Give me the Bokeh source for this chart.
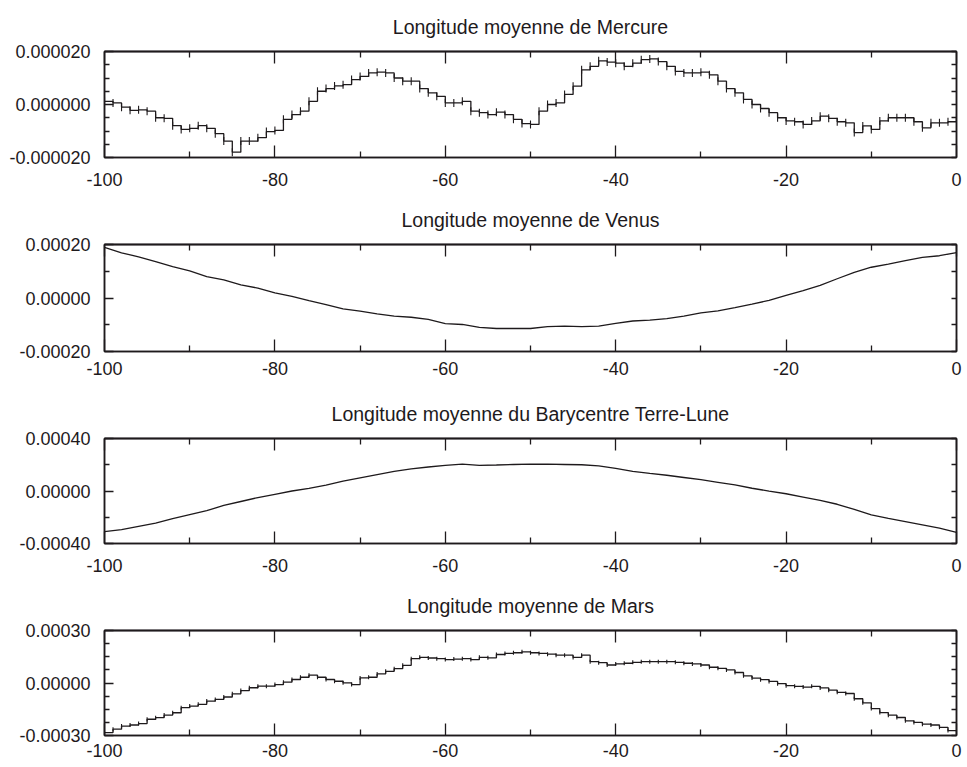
import math
from bokeh.plotting import figure
from bokeh.models import Range1d, FixedTicker, LinearAxis
from bokeh.layouts import column
from bokeh.embed import file_html
from bokeh.resources import INLINE

# ---------------- data ----------------
X_TICKS = [-100, -80, -60, -40, -20, 0]
X_MINOR = [-90, -70, -50, -30, -10]
X_LABELS = ["-100", "-80", "-60", "-40", "-20", "0"]

# Mercure, values in units of 1e-6, one per unit of x from -100 to 0
mercure_x = list(range(-100, 1))
mercure_y = [1.2, 0.6, -1.0, -2.2, -2.0, -2.5, -5.0, -5.2, -8.0, -9.4,
             -9.0, -8.0, -9.0, -11.0, -13.8, -18.0, -13.8, -13.8, -12.5, -10.2,
             -9.8, -5.6, -3.8, -2.5, 1.2, 5.0, 6.0, 7.0, 7.5, 9.4,
             10.6, 11.9, 12.2, 11.9, 10.0, 8.8, 8.8, 6.0, 4.4, 3.1,
             0.6, 0.6, 1.2, -2.5, -3.1, -3.8, -2.9, -3.8, -5.6, -7.2,
             -7.5, -2.5, 0.0, 0.6, 3.8, 6.9, 13.1, 14.4, 16.5, 16.0,
             15.6, 14.4, 15.6, 16.9, 17.2, 16.2, 14.4, 12.5, 11.9, 11.9,
             12.2, 11.2, 8.8, 6.0, 4.4, 1.9, 0.0, -1.5, -3.1, -5.0,
             -6.2, -6.5, -7.5, -6.2, -4.4, -5.2, -6.5, -6.9, -10.6, -8.1,
             -9.4, -6.2, -5.0, -5.0, -5.0, -6.5, -8.8, -6.9, -6.9, -6.5,
             -5.0]
mercure_yticks = [-20, 0, 20]
mercure_yminor = [-15, -10, -5, 5, 10, 15]
mercure_ylabels = ["-0.000020", "0.000000", "0.000020"]

# Venus, values in units of 1e-5, every 2 units of x
venus_x = list(range(-100, 1, 2))
venus_y = [18.9, 16.9, 15.4, 13.6, 11.7, 10.1, 8.0, 6.8, 4.9, 3.7,
           1.9, 0.6, -1.0, -2.5, -4.1, -4.9, -5.9, -6.8, -7.2, -8.0,
           -9.6, -9.9, -11.0, -11.4, -11.4, -11.4, -10.7, -10.5, -10.7, -10.5,
           -9.5, -8.6, -8.3, -7.7, -6.8, -5.6, -4.8, -3.6, -2.3, -0.9,
           1.0, 2.8, 4.7, 7.2, 9.6, 11.5, 12.7, 14.0, 15.2, 15.8,
           17.0]
venus_yticks = [-20, 0, 20]
venus_yminor = [-10, 10]
venus_ylabels = ["-0.00020", "0.00000", "0.00020"]

# Barycentre Terre-Lune, values in units of 1e-5, every 2 units of x
terre_x = list(range(-100, 1, 2))
terre_y = [-31.0, -29.5, -27.0, -24.5, -21.0, -18.0, -15.0, -11.0, -8.0, -5.0,
           -2.5, 0.0, 2.0, 4.5, 7.5, 10.0, 12.5, 15.0, 16.8, 18.3,
           19.5, 20.5, 19.5, 19.8, 20.2, 20.4, 20.4, 20.2, 20.0, 19.2,
           17.2, 15.0, 13.4, 12.0, 10.3, 8.6, 6.6, 4.6, 2.1, -0.1,
           -2.1, -4.6, -7.1, -10.1, -14.0, -18.2, -20.8, -23.3, -25.8, -28.3,
           -31.5]
terre_yticks = [-40, 0, 40]
terre_yminor = [-20, 20]
terre_ylabels = ["-0.00040", "0.00000", "0.00040"]

# Mars, values in units of 1e-5, one per unit of x
mars_x = list(range(-100, 1))
mars_y = [-28.3, -26.4, -24.6, -24.0, -23.2, -20.7, -19.8, -18.3, -17.0, -14.1,
          -13.2, -12.2, -10.3, -9.4, -8.0, -6.2, -4.3, -2.7, -1.8, -1.8,
          -0.9, 0.5, 2.0, 3.3, 4.5, 3.3, 2.0, 1.0, 0.1, -0.9,
          2.9, 3.3, 5.2, 6.7, 8.2, 10.1, 13.9, 14.7, 14.3, 13.9,
          13.4, 13.7, 13.9, 13.4, 14.7, 14.4, 16.3, 16.9, 17.3, 17.8,
          17.3, 16.9, 16.5, 15.9, 15.9, 14.6, 15.9, 12.2, 11.6, 10.3,
          10.9, 11.3, 11.8, 12.2, 12.2, 12.2, 12.2, 11.8, 11.3, 10.9,
          10.3, 9.0, 8.4, 7.5, 6.0, 4.1, 2.8, 1.9, 0.9, -0.4,
          -1.5, -1.9, -2.3, -1.9, -2.8, -4.1, -5.3, -6.0, -9.0, -11.3,
          -14.6, -16.9, -18.4, -19.7, -21.6, -22.5, -23.5, -24.0, -25.3, -27.2,
          -27.8]
mars_yticks = [-30, 0, 30]
mars_yminor = [-22.5, -15, -7.5, 7.5, 15, 22.5]
mars_ylabels = ["-0.00030", "0.00000", "0.00030"]

TITLES = ["Longitude moyenne de Mercure",
          "Longitude moyenne de Venus",
          "Longitude moyenne du Barycentre Terre-Lune",
          "Longitude moyenne de Mars"]

# ---------------- style ----------------
FONT = "Liberation Sans"
INK = "#1e1a1c"
TEXT = "#1e1a1c"
LINE_KW = dict(axis_line_color=INK, axis_line_width=1.5,
               major_tick_line_color=INK, minor_tick_line_color=INK,
               major_tick_line_width=1.3, minor_tick_line_width=1.3,
               major_tick_out=0, minor_tick_out=0)


def tick_only_axis(positions, length):
    """Axis that draws only inward tick marks (no labels)."""
    return LinearAxis(ticker=FixedTicker(ticks=[], minor_ticks=positions),
                      major_tick_in=0, minor_tick_in=length, **LINE_KW)


def make_panel(title, xs, ys, yticks, yminor, ylabels, height, bottom,
               label_standoff, kind, spike):
    p = figure(width=963, height=height,
               x_range=Range1d(-100, 0),
               y_range=Range1d(yticks[0], yticks[-1]),
               x_axis_type=None, y_axis_type=None,
               output_backend="svg", toolbar_location=None,
               min_border_left=104, min_border_right=7,
               min_border_top=50, min_border_bottom=bottom,
               title=title)
    p.grid.visible = False
    p.outline_line_color = INK
    p.outline_line_width = 1.5

    p.title.align = "center"
    p.title.text_font = FONT
    p.title.text_font_size = "19.5px"
    p.title.text_font_style = "normal"
    p.title.text_color = TEXT
    p.title.standoff = 27

    label_kw = dict(major_label_text_font=FONT, major_label_text_color=TEXT,
                    major_label_text_font_size="18px")

    xb = LinearAxis(ticker=FixedTicker(ticks=X_TICKS, minor_ticks=X_MINOR),
                    major_tick_in=12, minor_tick_in=6,
                    major_label_standoff=label_standoff,
                    major_label_overrides=dict(zip(X_TICKS, X_LABELS)),
                    **LINE_KW, **label_kw)
    p.add_layout(xb, "below")

    p.add_layout(tick_only_axis(X_TICKS, 12), "above")
    p.add_layout(tick_only_axis(X_MINOR, 6), "above")

    yl = LinearAxis(ticker=FixedTicker(ticks=yticks, minor_ticks=yminor),
                    major_tick_in=9, minor_tick_in=5,
                    major_label_standoff=14,
                    major_label_overrides=dict(zip(yticks, ylabels)),
                    **LINE_KW, **label_kw)
    p.add_layout(yl, "left")

    p.add_layout(tick_only_axis(yticks + yminor, 5), "right")

    if kind == "step":
        p.step(xs, ys, mode="after", line_color=INK, line_width=1.3)
    else:
        p.line(xs, ys, line_color=INK, line_width=1.3)
    if spike:
        p.scatter(xs, ys, marker="dash", angle=math.pi / 2, size=spike,
                  line_color=INK, line_width=1.1)
    return p


p1 = make_panel(TITLES[0], mercure_x, mercure_y, mercure_yticks, mercure_yminor,
                mercure_ylabels, 193, 36, 15, "step", 8)
p2 = make_panel(TITLES[1], venus_x, venus_y, venus_yticks, venus_yminor,
                venus_ylabels, 194, 36, 10, "line", 0)
p3 = make_panel(TITLES[2], terre_x, terre_y, terre_yticks, terre_yminor,
                terre_ylabels, 192, 36, 15, "line", 0)
p4 = make_panel(TITLES[3], mars_x, mars_y, mars_yticks, mars_yminor,
                mars_ylabels, 184, 28, 8, "step", 4)

layout = column(p1, p2, p3, p4, spacing=0)
open("out.html", "w").write(file_html(layout, INLINE))
